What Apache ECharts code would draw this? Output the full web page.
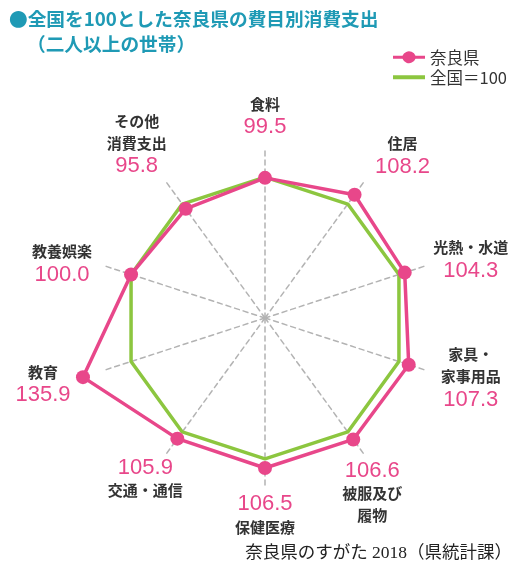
<!DOCTYPE html>
<html>
<head>
<meta charset="utf-8">
<script src="https://cdn.jsdelivr.net/npm/echarts@6/dist/echarts.min.js"></script>
<style>
html,body{margin:0;padding:0;background:#fff;}
#chart{width:517px;height:566px;}
</style>
</head>
<body>
<div id="chart"></div>
<script>
// ---- data ----
const categories = ['食料', '住居', '光熱・水道', '家具・\n家事用品', '被服及び\n履物', '保健医療', '交通・通信', '教育', '教養娯楽', 'その他\n消費支出'];
const naraValues = [99.5, 108.2, 104.3, 107.3, 106.6, 106.5, 105.9, 135.9, 100.0, 95.8];
const nationalValues = [100, 100, 100, 100, 100, 100, 100, 100, 100, 100];
const seriesNames = ['奈良県', '全国＝100'];
const titleText = '●全国を100とした奈良県の費目別消費支出';
const subTitleText = '（二人以上の世帯）';
const sourceText = '奈良県のすがた 2018（県統計課）';

// ---- layout / style (not data) ----
const PINK = '#e8478a';
const GREEN = '#8cc63f';
const TEAL = '#1f9ab5';
const labelOffsets = [[0,-62],[48,-39],[66,-13],[62,13],[19,53],[0,47],[-32,40],[-40,7],[-69,-11],[-49,-65]];
const valueFirst = [false,false,false,false,true,true,true,false,false,false];
// ECharts radar runs counter-clockwise; reorder so categories read clockwise
const order = [0, 9, 8, 7, 6, 5, 4, 3, 2, 1];

function idxFromValue(v) { return naraValues.indexOf(v); }
function idxFromText(t) {
  for (let i = 0; i < naraValues.length; i++) {
    if (t.indexOf('{v|' + naraValues[i].toFixed(1) + '}') >= 0) return i;
  }
  return -1;
}

const chart = echarts.init(document.getElementById('chart'), null, {renderer: 'canvas'});
const option = {
  animation: false,
  backgroundColor: '#fff',
  title: [
    {text: titleText, left: 9, top: 10, padding: 0,
     textStyle: {fontSize: 18.7, fontWeight: 'bold', color: TEAL, fontFamily: 'Noto Sans CJK JP'}},
    {text: subTitleText, left: 27, top: 35, padding: 0,
     textStyle: {fontSize: 18.7, fontWeight: 'bold', color: TEAL, fontFamily: 'Noto Sans CJK JP'}},
    {text: sourceText, right: 5, top: 545, padding: 0,
     textStyle: {fontSize: 17.5, fontWeight: 'normal', color: '#222', fontFamily: 'Liberation Serif, Noto Sans CJK JP'}}
  ],
  legend: [
    {data: [{name: seriesNames[0], icon: 'path://M0,5.5 L9.5,5.5 A7,7 0 0,1 22.5,5.5 L32,5.5 L32,8.5 L22.5,8.5 A7,7 0 0,1 9.5,8.5 L0,8.5 Z'}],
     left: 393, top: 49, padding: 0, itemWidth: 32, itemHeight: 14, itemGap: 0,
     textStyle: {fontSize: 16.5, color: '#333', fontFamily: 'Noto Sans CJK JP'},
     selectedMode: false},
    {data: [{name: seriesNames[1], icon: 'rect'}],
     left: 393, top: 69, padding: 0, itemWidth: 32, itemHeight: 4, itemGap: 0,
     textStyle: {fontSize: 16.5, color: '#333', fontFamily: 'Noto Sans CJK JP'},
     selectedMode: false}
  ],
  radar: {
    center: [265, 318],
    radius: 169,
    startAngle: 90,
    shape: 'polygon',
    splitNumber: 4,
    indicator: order.map(i => ({name: categories[i], min: 0, max: 120})),
    axisName: {show: false},
    splitLine: {show: false},
    splitArea: {show: false},
    axisTick: {show: false},
    axisLabel: {show: false},
    axisLine: {lineStyle: {color: '#b3b3b3', type: [5, 4], width: 1.5}}
  },
  series: [
    {
      name: seriesNames[1],
      type: 'radar',
      symbol: 'none',
      z: 2,
      lineStyle: {color: GREEN, width: 3.5},
      itemStyle: {color: GREEN},
      data: [{name: seriesNames[1], value: order.map(i => nationalValues[i])}]
    },
    {
      name: seriesNames[0],
      type: 'radar',
      symbol: 'circle',
      symbolSize: 14,
      z: 3,
      lineStyle: {color: PINK, width: 3.5},
      itemStyle: {color: PINK},
      label: {
        show: true,
        position: 'top',
        formatter: function (p) {
          const i = idxFromValue(p.value);
          const name = '{n|' + categories[i] + '}';
          const val = '{v|' + naraValues[i].toFixed(1) + '}';
          return valueFirst[i] ? val + '\n' + name : name + '\n' + val;
        },
        rich: {
          n: {fontSize: 15, fontWeight: 'bold', color: '#333', lineHeight: 22, fontFamily: 'Noto Sans CJK JP', align: 'center'},
          v: {fontSize: 22, color: PINK, lineHeight: 24, fontFamily: 'Liberation Sans', align: 'center'}
        }
      },
      labelLayout: function (params) {
        const i = idxFromText(params.text || '');
        if (i < 0) return {};
        const r = params.rect;
        const cx = r.x + r.width / 2;
        const cy = r.y + r.height / 2;
        return {x: cx + labelOffsets[i][0], y: cy + labelOffsets[i][1], align: 'center', verticalAlign: 'middle'};
      },
      data: [{name: seriesNames[0], value: order.map(i => naraValues[i])}]
    }
  ]
};
chart.setOption(option);
</script>
</body>
</html>
